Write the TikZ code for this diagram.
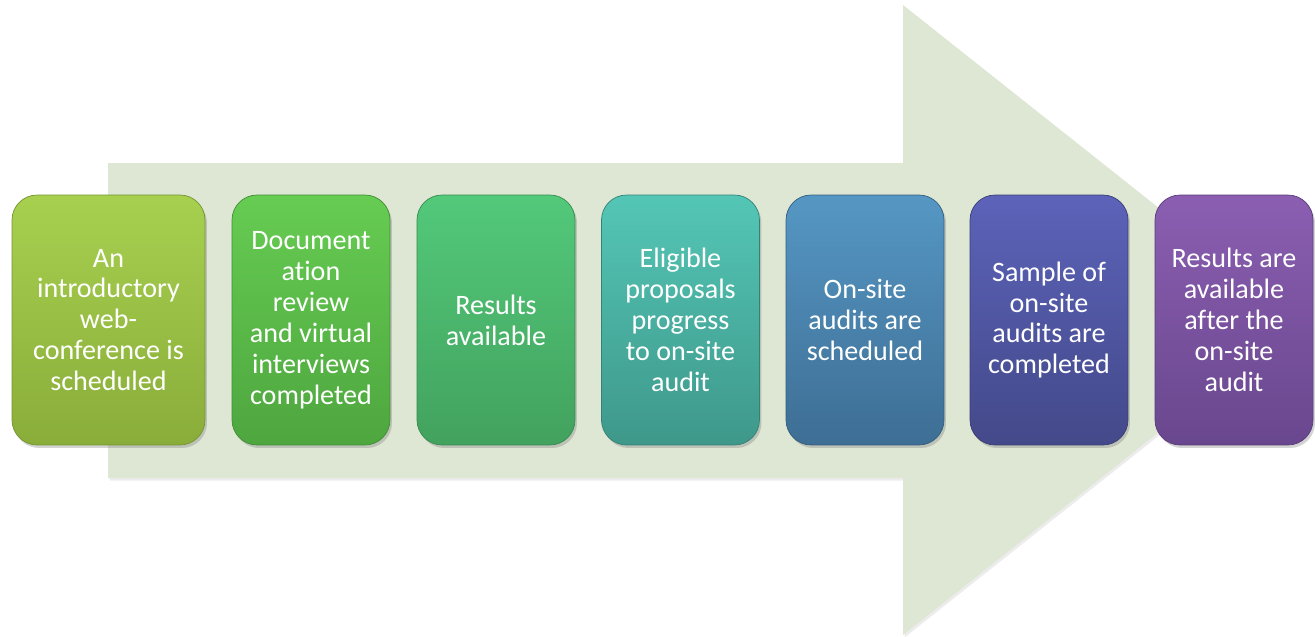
\documentclass[tikz,border=0pt]{standalone}
\usepackage{fontspec}
\setmainfont{Carlito}[Ligatures=NoCommon]
\usetikzlibrary{shadows}

\definecolor{arrowfill}{HTML}{DDE7D3}
\definecolor{c1t}{HTML}{A7D04F}\definecolor{c1b}{HTML}{8AAD3A}
\definecolor{c2t}{HTML}{66CC52}\definecolor{c2b}{HTML}{4EA63F}
\definecolor{c3t}{HTML}{53C97A}\definecolor{c3b}{HTML}{42A25E}
\definecolor{c4t}{HTML}{54C6B6}\definecolor{c4b}{HTML}{3E988A}
\definecolor{c5t}{HTML}{5597C4}\definecolor{c5b}{HTML}{3E6E94}
\definecolor{c6t}{HTML}{5C63B9}\definecolor{c6b}{HTML}{434989}
\definecolor{c7t}{HTML}{8B5EB1}\definecolor{c7b}{HTML}{69478E}

\tikzset{
  stepbox/.style = {rounded corners=0.5cm, minimum height=5cm, minimum width=3.16cm,
    inner sep=0pt, align=center, text=white,
    font=\fontsize{16}{17.6}\selectfont,
    drop shadow={opacity=0.35, shadow xshift=0.04cm, shadow yshift=-0.06cm}},
}

\begin{document}
\begin{tikzpicture}[x=0.02cm, y=-0.02cm]

\useasboundingbox (0,0) rectangle (1315,636);

% big arrow behind the steps
\fill[arrowfill, drop shadow={opacity=0.15, shadow xshift=0.03cm, shadow yshift=-0.05cm}]
  (108,163) -- (903,163) -- (903,5) -- (1300,320) -- (903,635) -- (903,478) -- (108,478) -- cycle;

% steps
\node[stepbox, minimum width=3.86cm, top color=c1t, bottom color=c1b, draw=c1b!85!black] (s1) at (108.5,320)
  {An\\introductory\\web-\\conference is\\scheduled};
\foreach \i/\xc/\txt in {2/311/{Document\\ation\\review\\and virtual\\interviews\\completed},
                         3/496/{Results\\available},
                         4/680.5/{Eligible\\proposals\\progress\\to on-site\\audit},
                         5/865/{On-site\\audits are\\scheduled},
                         6/1049/{Sample of\\on-site\\audits are\\completed},
                         7/1234/{Results are\\available\\after the\\on-site\\audit}}
  {\node[stepbox, top color=c\i t, bottom color=c\i b, draw=c\i b!85!black] (s\i) at (\xc,320) {\txt};}

\end{tikzpicture}
\end{document}
